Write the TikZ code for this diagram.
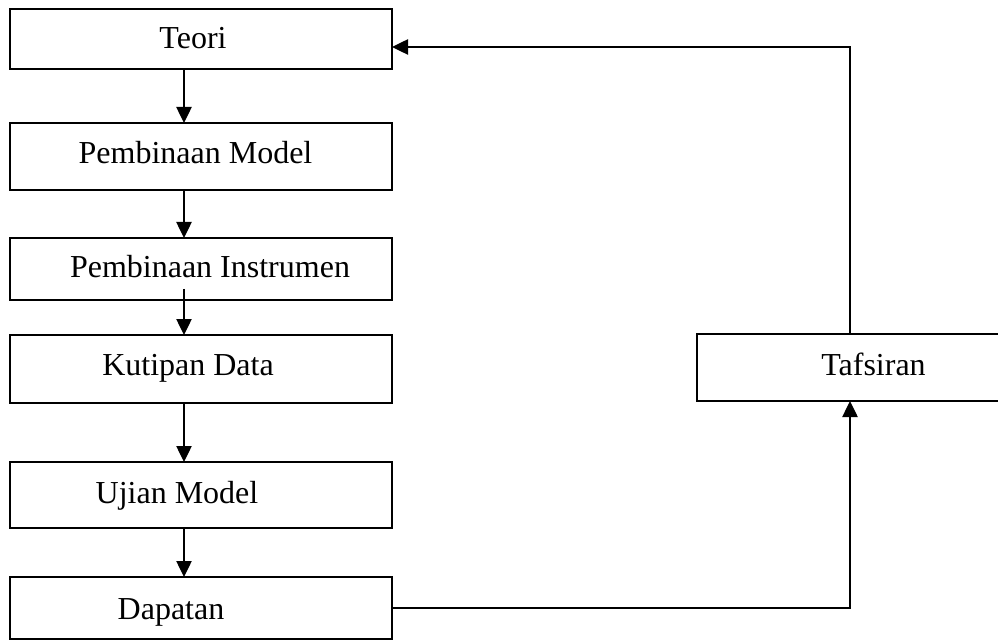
\documentclass[tikz,border=0pt]{standalone}
\usepackage{fontspec}
\setmainfont{Liberation Serif}
\usetikzlibrary{arrows.meta,calc}
\begin{document}
\begin{tikzpicture}[x=0.75pt,y=-0.75pt,
  box/.style={draw,rectangle,inner sep=0pt,outer sep=0pt,line width=1.2pt,minimum width=286.5pt},
  lbl/.style={anchor=base,inner sep=0pt,font=\fontsize{24}{28}\selectfont},
  arr/.style={line width=1pt,-{Triangle[length=12pt,width=11.5pt]}}]
\useasboundingbox (0,0) rectangle (998,641);

% left column of stages
\node[box,minimum height=45pt]    (teori) at (201,39)    {};
\node[box,minimum height=50.25pt] (pm)    at (201,156.5) {};
\node[box,minimum height=46.5pt]  (pi)    at (201,269)   {};
\node[box,minimum height=51pt]    (kd)    at (201,369)   {};
\node[box,minimum height=49.5pt]  (um)    at (201,495)   {};
\node[box,minimum height=46.5pt]  (dp)    at (201,608)   {};
% interpretation box on the right
\node[box,minimum width=229.5pt,minimum height=50.25pt] (tf) at (850,367.5) {};

% labels
\node[lbl] (tteori) at (193,49)    {Teori};
\node[lbl] (tpm)    at (195.5,164) {Pembinaan Model};
\node[lbl] (tpi)    at (210,278)   {Pembinaan Instrumen};
\node[lbl] (tkd)    at (188,375)   {Kutipan Data};
\node[lbl] (tum)    at (177,503)   {Ujian Model};
\node[lbl] (tdp)    at (171,619)   {Dapatan};
\node[lbl] (ttf)    at (873.5,375) {Tafsiran};

% downward flow
\draw[arr] ($(teori.south)+(-17,0)$) -- ($(pm.north)+(-17,0)$);
\draw[arr] ($(pm.south)+(-17,0)$)    -- ($(pi.north)+(-17,0)$);
\draw[arr] ($(pi.south)+(-17,-11)$)  -- ($(kd.north)+(-17,0)$);
\draw[arr] ($(kd.south)+(-17,0)$)    -- ($(um.north)+(-17,0)$);
\draw[arr] ($(um.south)+(-17,0)$)    -- ($(dp.north)+(-17,0)$);

% feedback loop
\draw[arr] (dp.east) -| (tf.south);
\draw[arr] (tf.north) |- ($(teori.east)+(0,8)$);
\end{tikzpicture}
\end{document}
